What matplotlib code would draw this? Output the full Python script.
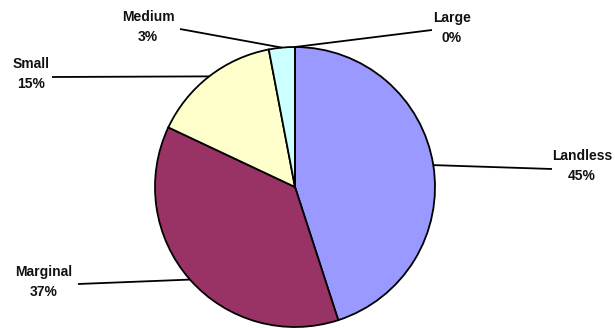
"""
Pie chart of holdings by farm size class, with outside labels and leader lines.
"""

import matplotlib

matplotlib.use("Agg")

import matplotlib.pyplot as plt
import numpy as np

# ---------------------------------------------------------------------------
# Data
# ---------------------------------------------------------------------------

CATEGORIES = ["Landless", "Marginal", "Small", "Medium", "Large"]
SHARES = [45, 37, 15, 3, 0]
COLORS = ["#9999FF", "#993366", "#FFFFCC", "#CCFFFF", "#660066"]

# Label layout in pixels: (line end x, line end y, text x, text y)
LABEL_LAYOUT = {
    "Landless": (552, 169, 582, 166),
    "Marginal": (78, 284, 44, 282),
    "Small": (52, 77, 31, 74),
    "Medium": (180, 29, 148, 27),
    "Large": (432, 30, 452, 28),
}

# ---------------------------------------------------------------------------
# Figure geometry (pixels)
# ---------------------------------------------------------------------------

WIDTH, HEIGHT = 615, 328
CX, CY, RADIUS = 295, 187, 140

plt.rcParams["font.family"] = ["Liberation Sans", "DejaVu Sans"]


def to_data(px, py):
    """Convert a pixel position (from top-left) into pie data units."""
    return (px - CX) / RADIUS, (CY - py) / RADIUS


fig = plt.figure(figsize=(WIDTH / 100, HEIGHT / 100), dpi=100)
ax = fig.add_axes([0, 0, 1, 1])

wedges, _ = ax.pie(
    SHARES,
    colors=COLORS,
    startangle=90,
    counterclock=False,
    radius=1.0,
    wedgeprops={"edgecolor": "black", "linewidth": 1.3},
)

for wedge, name, share in zip(wedges, CATEGORIES, SHARES):
    mid = np.deg2rad((wedge.theta1 + wedge.theta2) / 2)
    x0, y0 = np.cos(mid), np.sin(mid)
    lx, ly, tx, ty = LABEL_LAYOUT[name]
    x1, y1 = to_data(lx, ly)
    ax.plot([x0, x1], [y0, y1], color="black", linewidth=1.3, solid_capstyle="butt")
    tx, ty = to_data(tx, ty)
    ax.text(
        tx,
        ty,
        f"{name}\n{share}%",
        ha="center",
        va="center",
        fontsize=10,
        fontweight="bold",
        color="#111111",
        linespacing=1.6,
    )

ax.set_xlim(-CX / RADIUS, (WIDTH - CX) / RADIUS)
ax.set_ylim(-(HEIGHT - CY) / RADIUS, CY / RADIUS)
ax.set_aspect("equal")
ax.axis("off")

fig.savefig("out.png", dpi=100)
